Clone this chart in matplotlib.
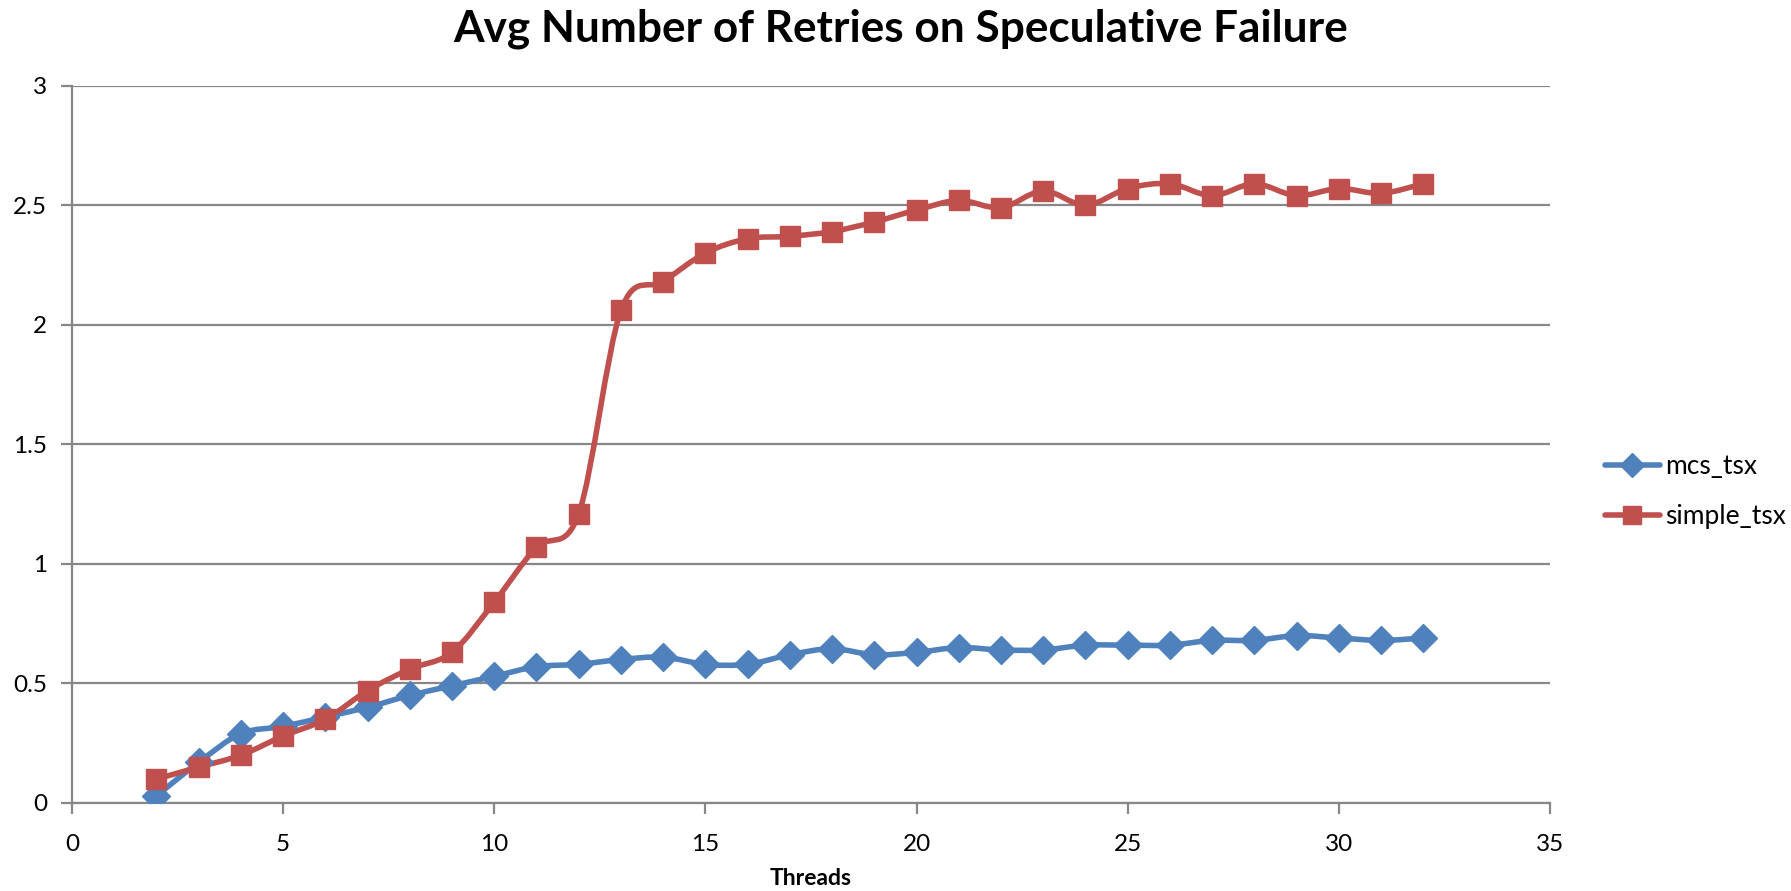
import numpy as np
import matplotlib
matplotlib.use('Agg')
import matplotlib.pyplot as plt
from matplotlib.path import Path
from matplotlib.patches import PathPatch
from matplotlib.lines import Line2D

plt.rcParams['font.family'] = ['Lato', 'DejaVu Sans']

threads = list(range(2, 33))
mcs_tsx = [0.03, 0.17, 0.29, 0.32, 0.36, 0.40, 0.45, 0.49, 0.53, 0.57,
           0.58, 0.60, 0.61, 0.58, 0.58, 0.62, 0.645, 0.62, 0.63, 0.65,
           0.64, 0.64, 0.66, 0.66, 0.66, 0.68, 0.68, 0.70, 0.69, 0.68, 0.69]
simple_tsx = [0.10, 0.15, 0.20, 0.28, 0.35, 0.47, 0.56, 0.63, 0.84, 1.07,
              1.21, 2.06, 2.18, 2.30, 2.36, 2.37, 2.39, 2.43, 2.48, 2.52,
              2.49, 2.56, 2.50, 2.57, 2.59, 2.54, 2.59, 2.54, 2.57, 2.55, 2.59]

BLUE = '#4F81BD'
RED = '#C0504D'
GRID = '#878787'
LW = 4.0


def smooth_path(x, y):
    # Catmull-Rom style bezier through every point, like spreadsheet smoothing
    pts = np.column_stack([x, y]).astype(float)
    verts = [pts[0]]
    codes = [Path.MOVETO]
    n = len(pts)
    for i in range(n - 1):
        p0 = pts[max(i - 1, 0)]
        p1 = pts[i]
        p2 = pts[i + 1]
        p3 = pts[min(i + 2, n - 1)]
        c1 = p1 + (p2 - p0) / 6.0
        c2 = p2 - (p3 - p1) / 6.0
        verts += [c1, c2, p2]
        codes += [Path.CURVE4] * 3
    return Path(verts, codes)


fig = plt.figure(figsize=(17.91, 8.91), dpi=100)
ax = fig.add_axes([0.0402, 0.0988, 0.8252, 0.805])

series = [(mcs_tsx, BLUE, 'D', 14.5), (simple_tsx, RED, 's', 14.5)]
for ys, col, mk, ms in series:
    ax.add_patch(PathPatch(smooth_path(threads, ys), fill=False, edgecolor=col,
                           lw=LW, capstyle='round', joinstyle='round', zorder=3))
    ax.plot(threads, ys, ls='none', marker=mk, ms=ms, color=col, zorder=4)

ax.set_xlim(0, 35)
ax.set_ylim(0, 3)
ax.set_xticks(range(0, 36, 5))
ax.set_yticks([0, 0.5, 1, 1.5, 2, 2.5, 3])
ax.set_yticklabels(['0', '0.5', '1', '1.5', '2', '2.5', '3'])
ax.yaxis.grid(True, color=GRID, lw=1.6)
ax.set_axisbelow(True)
for s in ['top', 'right']:
    ax.spines[s].set_visible(False)
for s in ['left', 'bottom']:
    ax.spines[s].set_color(GRID)
    ax.spines[s].set_linewidth(1.6)
ax.tick_params(axis='both', colors=GRID, length=8, width=1.6,
               labelcolor='black', labelsize=17.5)
ax.tick_params(axis='x', pad=14)
ax.tick_params(axis='y', pad=10)

ax.set_xlabel('Threads', fontsize=16.5, fontweight='bold', labelpad=10)
fig.text(0.503, 0.968, 'Avg Number of Retries on Speculative Failure',
         ha='center', va='center', fontsize=31.8, fontweight='bold')

handles = [
    Line2D([], [], color=BLUE, lw=LW, marker='D', ms=12, solid_capstyle='round'),
    Line2D([], [], color=RED, lw=LW, marker='s', ms=13, solid_capstyle='round'),
]
fig.legend(handles, ['mcs_tsx', 'simple_tsx'], loc='center left',
           bbox_to_anchor=(0.896, 0.448), frameon=False, fontsize=19,
           handlelength=2.1, handletextpad=0.2, labelspacing=0.95,
           borderpad=0, borderaxespad=0)

fig.savefig('out.png', dpi=100)
